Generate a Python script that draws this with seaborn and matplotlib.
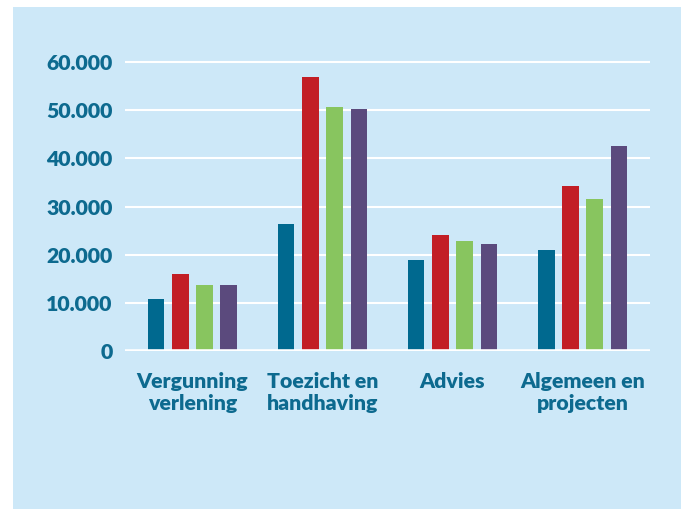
import matplotlib
matplotlib.use('Agg')
import matplotlib.pyplot as plt
from matplotlib.patches import Rectangle
from matplotlib.ticker import FuncFormatter
import seaborn as sns
import pandas as pd

# Data
categories = ['Vergunning\nverlening', 'Toezicht en\nhandhaving', 'Advies', 'Algemeen en\nprojecten']
series = ['Reeks 1', 'Reeks 2', 'Reeks 3', 'Reeks 4']
values_1 = [10700, 26300, 18900, 21000]
values_2 = [16000, 56900, 24100, 34300]
values_3 = [13700, 50600, 22800, 31500]
values_4 = [13700, 50200, 22200, 42600]
yticks = [0, 10000, 20000, 30000, 40000, 50000, 60000]

colors = ['#00698f', '#c21e25', '#88c55f', '#5b4a7d']
bg = '#cde8f8'
text_color = '#0d6a8f'

rows = []
for name, vals in zip(series, [values_1, values_2, values_3, values_4]):
    for cat, v in zip(categories, vals):
        rows.append({'categorie': cat, 'reeks': name, 'waarde': v})
df = pd.DataFrame(rows)

sns.set_theme(style='white')
plt.rcParams['font.family'] = ['Lato', 'DejaVu Sans']

fig = plt.figure(figsize=(6.87, 5.09), dpi=100, facecolor='white')
# light blue panel behind the chart
fig.patches.append(Rectangle((13 / 687, 0), (681 - 13) / 687, (509 - 7) / 509,
                             transform=fig.transFigure, facecolor=bg,
                             edgecolor='none', zorder=-10))

ax = fig.add_axes([125 / 687, 158 / 509, (650 - 125) / 687, (351 - 52.4) / 509])
ax.set_facecolor('none')

sns.barplot(data=df, x='categorie', y='waarde', hue='reeks', palette=colors,
            width=0.74, gap=0.33, saturation=1, linewidth=0, legend=False,
            ax=ax, zorder=3)

ax.set_ylim(0, 62000)
ax.set_xlim(-0.519, 3.519)
ax.set_yticks(yticks)
ax.yaxis.set_major_formatter(FuncFormatter(lambda v, p: f'{int(v):,}'.replace(',', '.')))

for y in yticks[1:]:
    ax.axhline(y, color='white', lw=1.5, zorder=1)
ax.axhline(0, color='white', lw=2.6, zorder=4)

for s in ax.spines.values():
    s.set_visible(False)
ax.tick_params(axis='both', length=0, colors=text_color)
ax.tick_params(axis='y', pad=9, labelsize=15.3)
ax.tick_params(axis='x', pad=15, labelsize=15.3)
for lbl in ax.get_xticklabels() + ax.get_yticklabels():
    lbl.set_fontweight('heavy')
    lbl.set_color(text_color)
for lbl in ax.get_xticklabels():
    lbl.set_linespacing(1.2)
ax.set_xlabel('')
ax.set_ylabel('')

fig.savefig('out.png', dpi=100, facecolor='white')
